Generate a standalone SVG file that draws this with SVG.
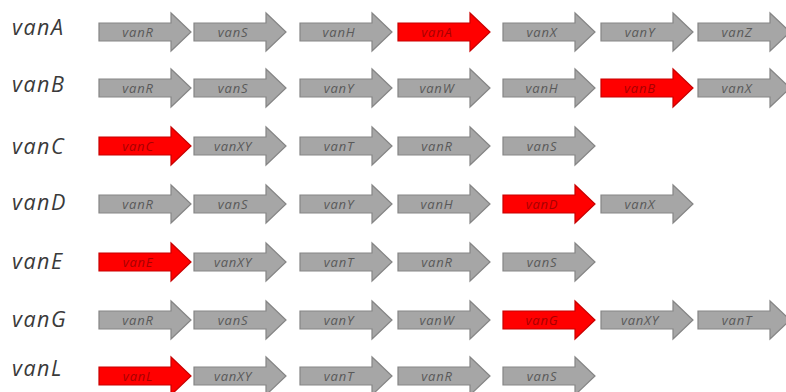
<svg xmlns="http://www.w3.org/2000/svg" xmlns:xlink="http://www.w3.org/1999/xlink" width="786" height="392" viewBox="0 0 786 392">
<style>
.lab{font-family:"Open Sans","Liberation Sans",sans-serif;font-style:italic;font-size:21.5px;letter-spacing:1.5px;fill:#3a3a3a}
.g{fill:#a6a6a6;stroke:#858585;stroke-width:1.2}
.r{fill:#ff0000;stroke:#c80000;stroke-width:1.2}
.gt{font-family:"Open Sans","Liberation Sans",sans-serif;font-style:italic;font-size:13px;letter-spacing:0.8px;fill:#595959;text-anchor:middle}
.rt{font-family:"Open Sans","Liberation Sans",sans-serif;font-style:italic;font-size:13px;letter-spacing:0.8px;fill:#a80000;text-anchor:middle}
</style>
<defs>
<path id="arr" d="M0,-9 H72 V-19 L92,0 L72,19 V9 H0 Z"/>
</defs>
<rect width="786" height="392" fill="#fff"/>
<g id="connectors"/>
<g id="vanA">
<text class="lab" x="12" y="35">vanA</text>
<use href="#arr" class="g" x="99" y="32"/><text class="gt" x="138" y="37">vanR</text>
<use href="#arr" class="g" x="194" y="32"/><text class="gt" x="233" y="37">vanS</text>
<use href="#arr" class="g" x="300" y="32"/><text class="gt" x="339" y="37">vanH</text>
<use href="#arr" class="r" x="398" y="32"/><text class="rt" x="437" y="37">vanA</text>
<use href="#arr" class="g" x="503" y="32"/><text class="gt" x="542" y="37">vanX</text>
<use href="#arr" class="g" x="601" y="32"/><text class="gt" x="640" y="37">vanY</text>
<use href="#arr" class="g" x="698" y="32"/><text class="gt" x="737" y="37">vanZ</text>
</g>
<g id="vanB">
<text class="lab" x="12" y="92">vanB</text>
<use href="#arr" class="g" x="99" y="88"/><text class="gt" x="138" y="93">vanR</text>
<use href="#arr" class="g" x="194" y="88"/><text class="gt" x="233" y="93">vanS</text>
<use href="#arr" class="g" x="300" y="88"/><text class="gt" x="339" y="93">vanY</text>
<use href="#arr" class="g" x="398" y="88"/><text class="gt" x="437" y="93">vanW</text>
<use href="#arr" class="g" x="503" y="88"/><text class="gt" x="542" y="93">vanH</text>
<use href="#arr" class="r" x="601" y="88"/><text class="rt" x="640" y="93">vanB</text>
<use href="#arr" class="g" x="698" y="88"/><text class="gt" x="737" y="93">vanX</text>
</g>
<g id="vanC">
<text class="lab" x="12" y="154">vanC</text>
<use href="#arr" class="r" x="99" y="146"/><text class="rt" x="138" y="151">vanC</text>
<use href="#arr" class="g" x="194" y="146"/><text class="gt" x="233" y="151">vanXY</text>
<use href="#arr" class="g" x="300" y="146"/><text class="gt" x="339" y="151">vanT</text>
<use href="#arr" class="g" x="398" y="146"/><text class="gt" x="437" y="151">vanR</text>
<use href="#arr" class="g" x="503" y="146"/><text class="gt" x="542" y="151">vanS</text>
</g>
<g id="vanD">
<text class="lab" x="12" y="210">vanD</text>
<use href="#arr" class="g" x="99" y="204"/><text class="gt" x="138" y="209">vanR</text>
<use href="#arr" class="g" x="194" y="204"/><text class="gt" x="233" y="209">vanS</text>
<use href="#arr" class="g" x="300" y="204"/><text class="gt" x="339" y="209">vanY</text>
<use href="#arr" class="g" x="398" y="204"/><text class="gt" x="437" y="209">vanH</text>
<use href="#arr" class="r" x="503" y="204"/><text class="rt" x="542" y="209">vanD</text>
<use href="#arr" class="g" x="601" y="204"/><text class="gt" x="640" y="209">vanX</text>
</g>
<g id="vanE">
<text class="lab" x="12" y="269">vanE</text>
<use href="#arr" class="r" x="99" y="262"/><text class="rt" x="138" y="267">vanE</text>
<use href="#arr" class="g" x="194" y="262"/><text class="gt" x="233" y="267">vanXY</text>
<use href="#arr" class="g" x="300" y="262"/><text class="gt" x="339" y="267">vanT</text>
<use href="#arr" class="g" x="398" y="262"/><text class="gt" x="437" y="267">vanR</text>
<use href="#arr" class="g" x="503" y="262"/><text class="gt" x="542" y="267">vanS</text>
</g>
<g id="vanG">
<text class="lab" x="12" y="327">vanG</text>
<use href="#arr" class="g" x="99" y="320"/><text class="gt" x="138" y="325">vanR</text>
<use href="#arr" class="g" x="194" y="320"/><text class="gt" x="233" y="325">vanS</text>
<use href="#arr" class="g" x="300" y="320"/><text class="gt" x="339" y="325">vanY</text>
<use href="#arr" class="g" x="398" y="320"/><text class="gt" x="437" y="325">vanW</text>
<use href="#arr" class="r" x="503" y="320"/><text class="rt" x="542" y="325">vanG</text>
<use href="#arr" class="g" x="601" y="320"/><text class="gt" x="640" y="325">vanXY</text>
<use href="#arr" class="g" x="698" y="320"/><text class="gt" x="737" y="325">vanT</text>
</g>
<g id="vanL">
<text class="lab" x="12" y="376">vanL</text>
<use href="#arr" class="r" x="99" y="376"/><text class="rt" x="138" y="381">vanL</text>
<use href="#arr" class="g" x="194" y="376"/><text class="gt" x="233" y="381">vanXY</text>
<use href="#arr" class="g" x="300" y="376"/><text class="gt" x="339" y="381">vanT</text>
<use href="#arr" class="g" x="398" y="376"/><text class="gt" x="437" y="381">vanR</text>
<use href="#arr" class="g" x="503" y="376"/><text class="gt" x="542" y="381">vanS</text>
</g>
</svg>
